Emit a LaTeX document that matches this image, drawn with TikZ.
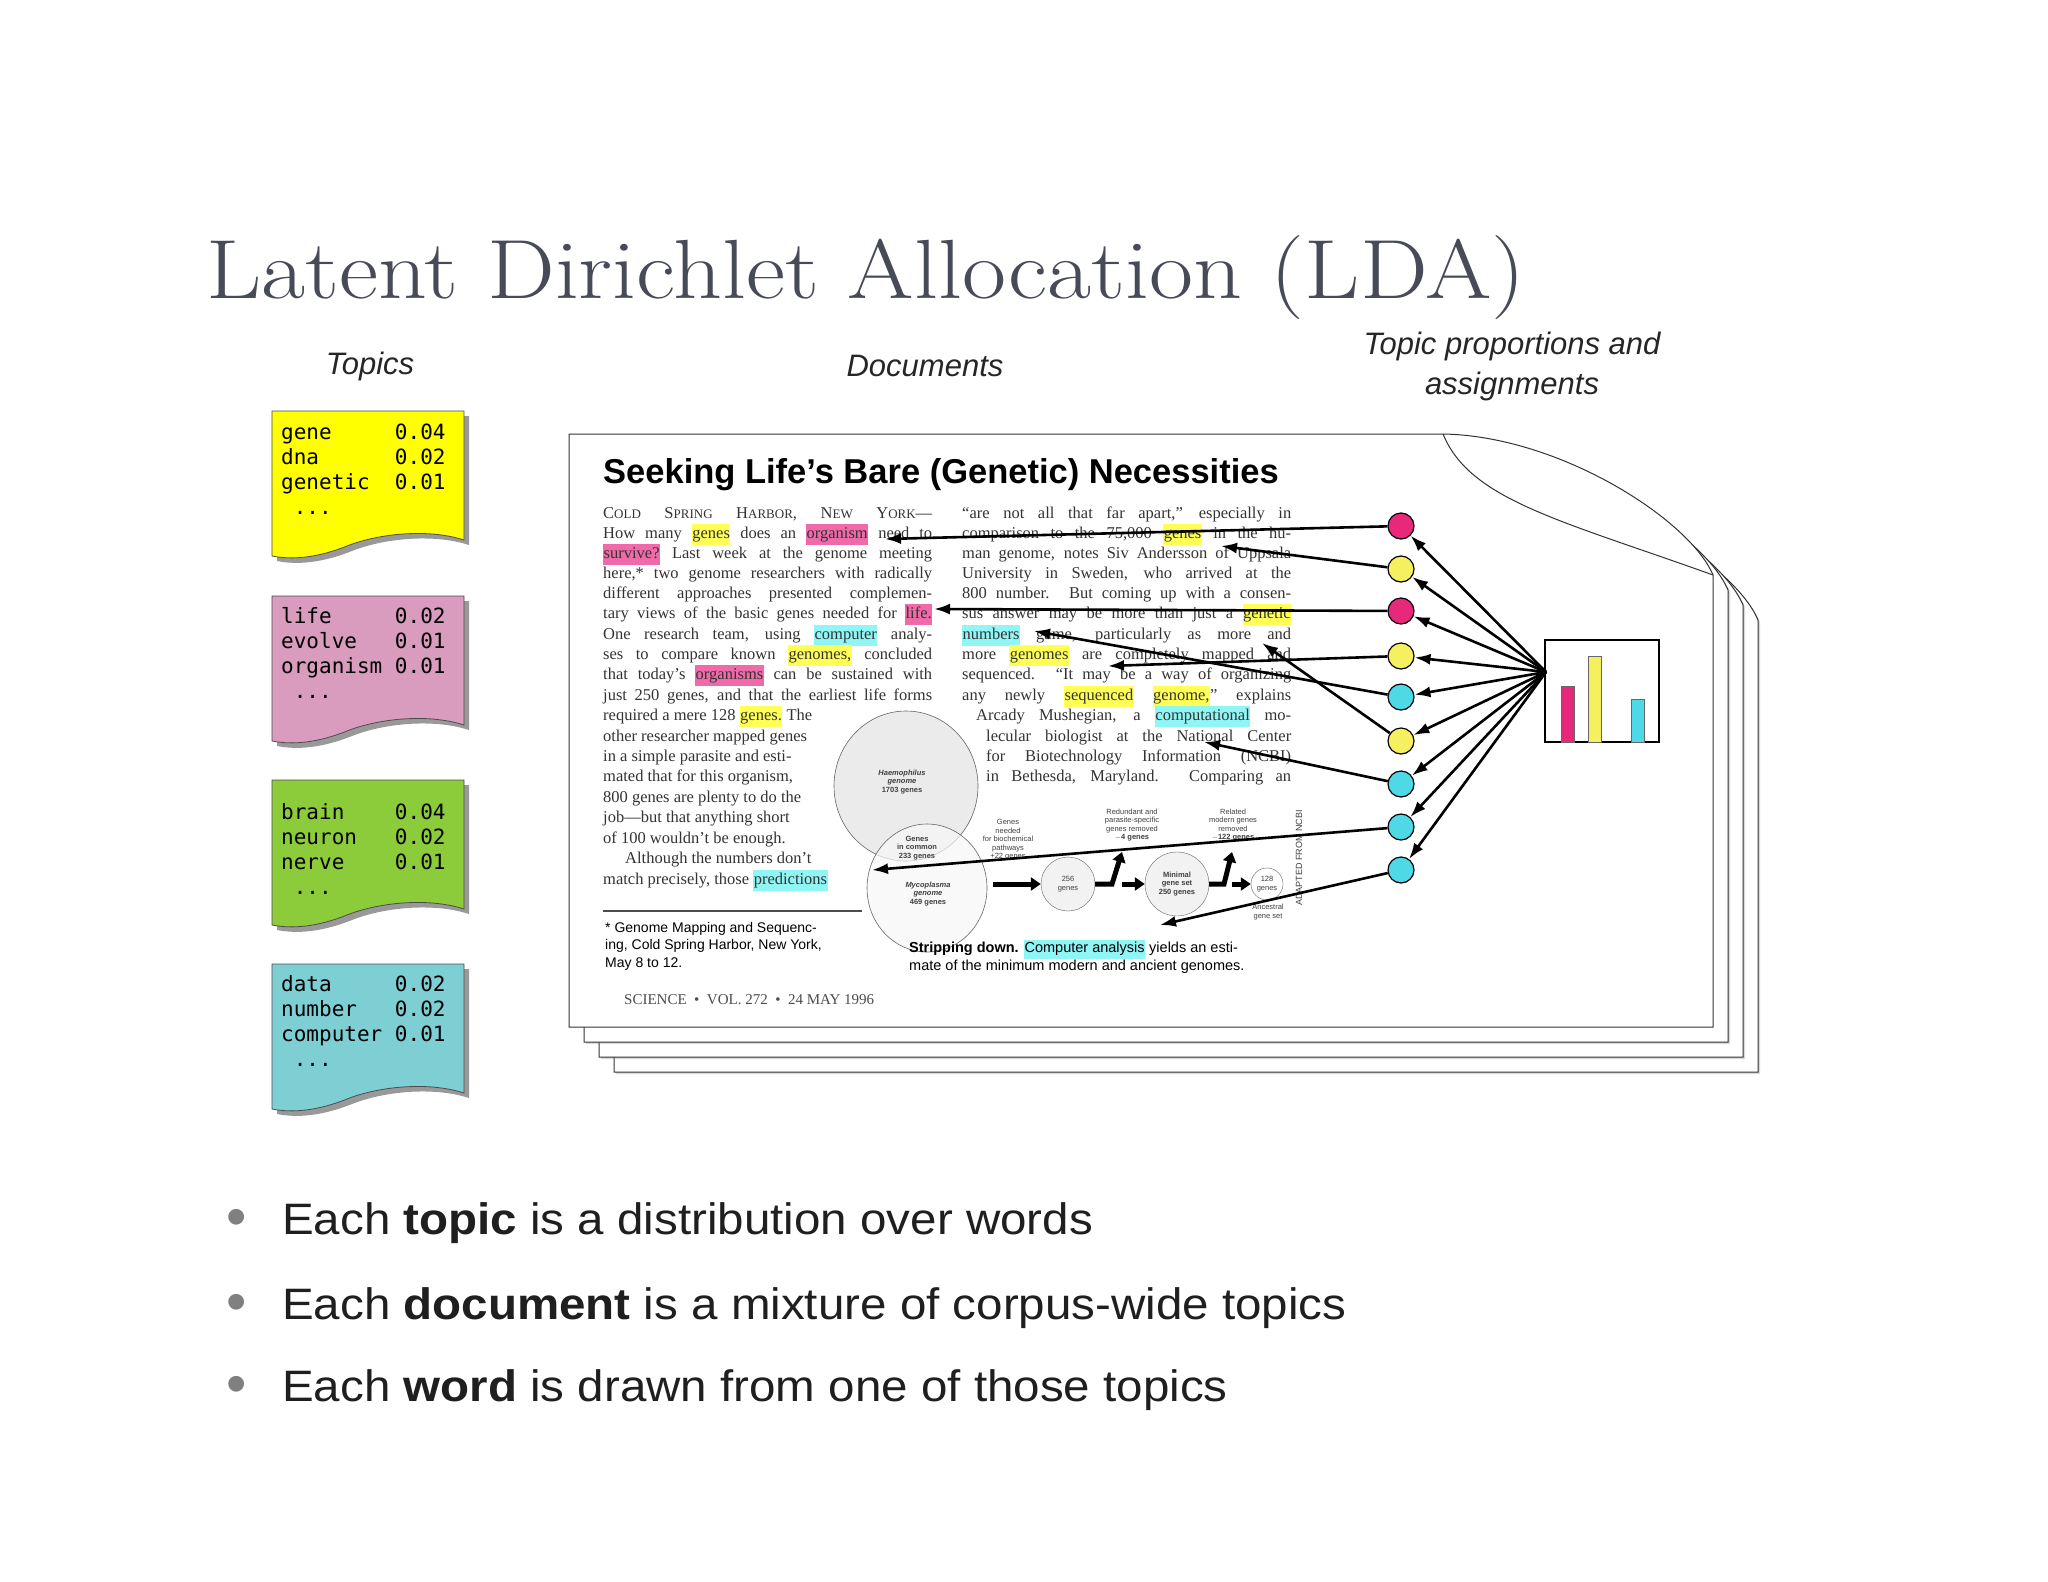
\documentclass[tikz,border=0pt]{standalone}
\usepackage{fontspec}
\usetikzlibrary{arrows.meta,shadows}
\newfontfamily\docserif{Liberation Serif}
\newfontfamily\docsans{Liberation Sans}
\newfontfamily\topicmono{DejaVu Sans Mono}
\definecolor{hyel}{HTML}{FFFF55}
\definecolor{hpink}{HTML}{F06AAA}
\definecolor{hcyan}{HTML}{8FF5F5}
\definecolor{tyel}{HTML}{FFFF00}
\definecolor{tpink}{HTML}{D99BBE}
\definecolor{tgreen}{HTML}{8CCB3A}
\definecolor{tcyan}{HTML}{7ECFD4}
\definecolor{titlegray}{HTML}{474A57}
\definecolor{dpink}{HTML}{E8287A}
\definecolor{dyel}{HTML}{F5F060}
\definecolor{dcyan}{HTML}{4FD8E6}
\setlength{\fboxsep}{0.5pt}
\newcommand{\hy}[1]{\colorbox{hyel}{\strut #1}}
\newcommand{\hp}[1]{\colorbox{hpink}{\strut #1}}
\newcommand{\hc}[1]{\colorbox{hcyan}{\strut #1}}
\newcommand{\fl}[1]{\makebox[329pt][s]{#1}}
\newcommand{\fr}[1]{\makebox[305pt][s]{#1}}
\tikzset{
  col/.style={anchor=base west,inner sep=0pt,font=\docserif\fontsize{16.5}{20}\selectfont,text=black!80},
  topictxt/.style={anchor=north west,inner sep=0pt,align=left,font=\topicmono\fontsize{21}{25}\selectfont},
  hdr/.style={font=\docsans\itshape\fontsize{31}{40}\selectfont,text=black!85,align=center},
  dot/.style={circle,draw=black,line width=1.2pt,minimum size=26pt,inner sep=0pt},
  arr/.style={line width=2.6pt,-{Latex[length=16pt,width=11pt]}},
  bul/.style={anchor=base west,inner sep=0pt,font=\docsans\fontsize{44}{50}\selectfont,text=black!88},
  tiny/.style={font=\docsans\fontsize{7.5}{8.5}\selectfont,align=center,inner sep=0pt,text=black!75},
  fat/.style={line width=5pt,-{Triangle[length=10pt,width=13pt]}},
}
\newcommand{\topicshape}[3]{%
  \fill[black!40] (#1+5,#2+5) -- (#1+197,#2+5) -- (#1+197,#2+134) .. controls (#1+160,#2+122) and (#1+110,#2+128) .. (#1+80,#2+140) .. controls (#1+50,#2+152) and (#1+25,#2+154) .. (#1+5,#2+150) -- cycle;
  \filldraw[fill=#3,draw=black!70,line width=0.8pt] (#1,#2) -- (#1+192,#2) -- (#1+192,#2+129) .. controls (#1+155,#2+117) and (#1+105,#2+123) .. (#1+75,#2+135) .. controls (#1+45,#2+147) and (#1+20,#2+149) .. (#1,#2+145) -- cycle;}
\newcommand{\pageshape}[2]{%
  (569+#1,434+#2) -- (1443+#1,434+#2) .. controls (1560+#1,436+#2) and (1690+#1,520+#2) .. (1713+#1,575+#2) -- (1713+#1,1027+#2) -- (569+#1,1027+#2) -- cycle}
\begin{document}
\begin{tikzpicture}[x=1pt,y=-1pt]
\useasboundingbox (0,0) rectangle (2048,1582);
\fill[white] (0,0) rectangle (2048,1582);
% title
\node[anchor=base west,inner sep=0pt,text=titlegray,font=\fontsize{84}{90}\selectfont] (title) at (206,298) {\scalebox{1.14}[1]{Latent Dirichlet Allocation (LDA)}};
\node[hdr] (htopics) at (370,366) {Topics};
\node[hdr] (hdocs) at (925,366) {Documents};
\node[hdr] (hprop) at (1512,366) {Topic proportions and\\assignments};
% topic boxes
\topicshape{272}{411}{tyel}
\topicshape{272}{596}{tpink}
\topicshape{272}{780}{tgreen}
\topicshape{272}{964}{tcyan}
\node[topictxt] (tp1) at (281,424) {gene~~~~~0.04\\dna~~~~~~0.02\\genetic~~0.01\\~...};
\node[topictxt] (tp2) at (281,607) {life~~~~~0.02\\evolve~~~0.01\\organism~0.01\\~...};
\node[topictxt] (tp3) at (281,803) {brain~~~~0.04\\neuron~~~0.02\\nerve~~~~0.01\\~...};
\node[topictxt] (tp4) at (281,975) {data~~~~~0.02\\number~~~0.02\\computer~0.01\\~...};
% pages
\foreach \o in {45,30,15}{
  \filldraw[fill=white,draw=black!80,line width=1pt,drop shadow={shadow xshift=2pt,shadow yshift=-2pt,opacity=0.3}] \pageshape{\o}{\o};
}
\filldraw[fill=white,draw=black!80,line width=1pt] \pageshape{0}{0};
\draw[black!80,line width=1pt] (1443,434) .. controls (1470,500) and (1560,520) .. (1713,575);
% document title
\node[anchor=base west,inner sep=0pt,font=\docsans\bfseries\fontsize{34.5}{40}\selectfont] (dtitle) at (603,483) {Seeking Life’s Bare (Genetic) Necessities};
% left column
\node[col] (l1) at (603,518) {\fl{C{\fontsize{13}{16}\selectfont OLD} S{\fontsize{13}{16}\selectfont PRING} H{\fontsize{13}{16}\selectfont ARBOR}, N{\fontsize{13}{16}\selectfont EW} Y{\fontsize{13}{16}\selectfont ORK}—}};
\node[col] (l2) at (603,538) {\fl{How many \hy{genes} does an \hp{organism} need to}};
\node[col] (l3) at (603,558) {\fl{\hp{survive?} Last week at the genome meeting}};
\node[col] (l4) at (603,578) {\fl{here,* two genome researchers with radically}};
\node[col] (l5) at (603,598) {\fl{different approaches presented complemen-}};
\node[col] (l6) at (603,618) {\fl{tary views of the basic genes needed for \hp{life.}}};
\node[col] (l7) at (603,639) {\fl{One research team, using \hc{computer} analy-}};
\node[col] (l8) at (603,659) {\fl{ses to compare known \hy{genomes,} concluded}};
\node[col] (l9) at (603,679) {\fl{that today’s \hp{organisms} can be sustained with}};
\node[col] (l10) at (603,700) {\fl{just 250 genes, and that the earliest life forms}};
\node[col] (l11) at (603,720) {required a mere 128 \hy{genes.} The};
\node[col] (l12) at (603,741) {other researcher mapped genes};
\node[col] (l13) at (603,761) {in a simple parasite and esti-};
\node[col] (l14) at (603,781) {mated that for this organism,};
\node[col] (l15) at (603,802) {800 genes are plenty to do the};
\node[col] (l16) at (603,822) {job—but that anything short};
\node[col] (l17) at (603,843) {of 100 wouldn’t be enough.};
\node[col] (l18) at (603,863) {\hspace{22pt}Although the numbers don’t};
\node[col] (l19) at (603,884) {match precisely, those \hc{predictions}};
% right column
\node[col] (r1) at (962,518) {\fl{“are not all that far apart,” especially in}};
\node[col] (r2) at (962,538) {\fl{comparison to the 75,000 \hy{genes} in the hu-}};
\node[col] (r3) at (962,558) {\fl{man genome, notes Siv Andersson of Uppsala}};
\node[col] (r4) at (962,578) {\fl{University in Sweden, who arrived at the}};
\node[col] (r5) at (962,598) {\fl{800 number. But coming up with a consen-}};
\node[col] (r6) at (962,618) {\fl{sus answer may be more than just a \hy{genetic}}};
\node[col] (r7) at (962,639) {\fl{\hc{numbers} game, particularly as more and}};
\node[col] (r8) at (962,659) {\fl{more \hy{genomes} are completely mapped and}};
\node[col] (r9) at (962,679) {\fl{sequenced. “It may be a way of organizing}};
\node[col] (r10) at (962,700) {\fl{any newly \hy{sequenced} \hy{genome,}” explains}};
\node[col] (r11) at (962,720) {\fl{\hspace{14pt}Arcady Mushegian, a \hc{computational} mo-}};
\node[col] (r12) at (986,741) {\fr{lecular biologist at the National Center}};
\node[col] (r13) at (986,761) {\fr{for Biotechnology Information (NCBI)}};
\node[col] (r14) at (986,781) {\fr{in Bethesda, Maryland. Comparing an}};
% figure
\filldraw[fill=black!8,draw=black!60,line width=0.6pt] (906,786) ellipse (72pt and 75pt);
\filldraw[fill=black!3,draw=black!60,line width=0.6pt,fill opacity=0.7] (927,888) ellipse (60pt and 64pt);
\node[tiny,font=\docsans\bfseries\itshape\fontsize{7.5}{8.5}\selectfont] (haem) at (902,782) {Haemophilus\\genome\\\upshape 1703 genes};
\node[tiny,font=\docsans\bfseries\fontsize{7.5}{8.5}\selectfont] (common) at (917,848) {Genes\\in common\\233 genes};
\node[tiny,font=\docsans\bfseries\itshape\fontsize{7.5}{8.5}\selectfont] (myco) at (928,894) {Mycoplasma\\genome\\\upshape 469 genes};
\node[circle,draw=black!60,fill=black!5,minimum size=54pt,inner sep=0pt,tiny] (c256) at (1068,884) {256\\genes};
\node[circle,draw=black!60,fill=black!5,minimum size=64pt,inner sep=0pt,tiny,font=\docsans\bfseries\fontsize{7.5}{8.5}\selectfont] (cmin) at (1177,884) {Minimal\\gene set\\250 genes};
\node[circle,draw=black!60,fill=white,minimum size=32pt,inner sep=0pt,tiny] (c128) at (1267,884) {128\\genes};
\node[tiny] (lab1) at (1008,840) {Genes\\needed\\for biochemical\\pathways\\+22 genes};
\node[tiny] (lab2) at (1132,825) {Redundant and\\parasite-specific\\genes removed\\\bfseries $-$4 genes};
\node[tiny] (lab3) at (1233,825) {Related\\modern genes\\removed\\\bfseries $-$122 genes};
\node[tiny] (lab4) at (1268,912) {Ancestral\\gene set};
\node[tiny,rotate=90,font=\docsans\fontsize{9}{10}\selectfont] (adapt) at (1299,858) {ADAPTED FROM NCBI};
\draw[fat] (993,884) -- (c256.west);
\draw[fat] (c256.east) -- (1112,884) -- (1122,852);
\draw[fat] (1122,884) -- (cmin.west);
\draw[fat] (cmin.east) -- (1224,884) -- (1232,852);
\draw[fat] (1232,884) -- (c128.west);
\draw[black!70,line width=1.2pt] (603,911) -- (862,911);
\node[anchor=north west,inner sep=0pt,align=left,font=\docsans\fontsize{14}{17.5}\selectfont] (foot) at (605,922) {* Genome Mapping and Sequenc-\\ing, Cold Spring Harbor, New York,\\May 8 to 12.};
\node[anchor=north west,inner sep=0pt,align=left,font=\docsans\fontsize{14.5}{17.5}\selectfont] (capt) at (909,940) {\textbf{Stripping down.} \colorbox{hcyan}{\strut Computer analysis} yields an esti-\\mate of the minimum modern and ancient genomes.};
\node[anchor=base west,inner sep=0pt,font=\docserif\fontsize{15}{17}\selectfont,text=black!70] (sci) at (624,1004) {SCIENCE \ \textbullet\ \ VOL. 272 \ \textbullet\ \ 24 MAY 1996};
% chart
\node[draw=black,line width=1.2pt,minimum width=114pt,minimum height=102pt,inner sep=0pt] (chart) at (1602,691) {};
\fill[dpink,draw=black!60] (1561,742) rectangle (1574,686);
\fill[dyel,draw=black!60] (1588,742) rectangle (1601,656);
\fill[dcyan,draw=black!60] (1631,742) rectangle (1644,699);
% dots
\node[dot,fill=dpink] (d1) at (1401,526) {};
\node[dot,fill=dyel] (d2) at (1401,569) {};
\node[dot,fill=dpink] (d3) at (1401,611) {};
\node[dot,fill=dyel] (d4) at (1401,656) {};
\node[dot,fill=dcyan] (d5) at (1401,697) {};
\node[dot,fill=dyel] (d6) at (1401,741) {};
\node[dot,fill=dcyan] (d7) at (1401,784) {};
\node[dot,fill=dcyan] (d8) at (1401,827) {};
\node[dot,fill=dcyan] (d9) at (1401,870) {};
\coordinate (src) at (1546,672);
\foreach \i in {1,...,9}{\draw[arr] (src) -- (d\i);}
\coordinate (t1) at (885,539);
\coordinate (t2) at (1221,546);
\coordinate (t3) at (934,609);
\coordinate (t4) at (1108,666);
\coordinate (t5) at (1034,631);
\coordinate (t6) at (1262,643);
\coordinate (t7) at (1204,742);
\coordinate (t8) at (872,870);
\coordinate (t9) at (1160,925);
\foreach \i in {1,...,9}{\draw[arr] (d\i) -- (t\i);}
% bullets
\node[bul,text=black!50,font=\docsans\fontsize{58}{60}\selectfont] (b1) at (226,1236) {\textbullet};
\node[bul,text=black!50,font=\docsans\fontsize{58}{60}\selectfont] (b2) at (226,1321) {\textbullet};
\node[bul,text=black!50,font=\docsans\fontsize{58}{60}\selectfont] (b3) at (226,1403) {\textbullet};
\node[bul] (s1) at (282,1234) {\scalebox{1.08}[1]{Each \textbf{topic} is a distribution over words}};
\node[bul] (s2) at (282,1319) {\scalebox{1.08}[1]{Each \textbf{document} is a mixture of corpus-wide topics}};
\node[bul] (s3) at (282,1401) {\scalebox{1.08}[1]{Each \textbf{word} is drawn from one of those topics}};
\end{tikzpicture}
\end{document}
